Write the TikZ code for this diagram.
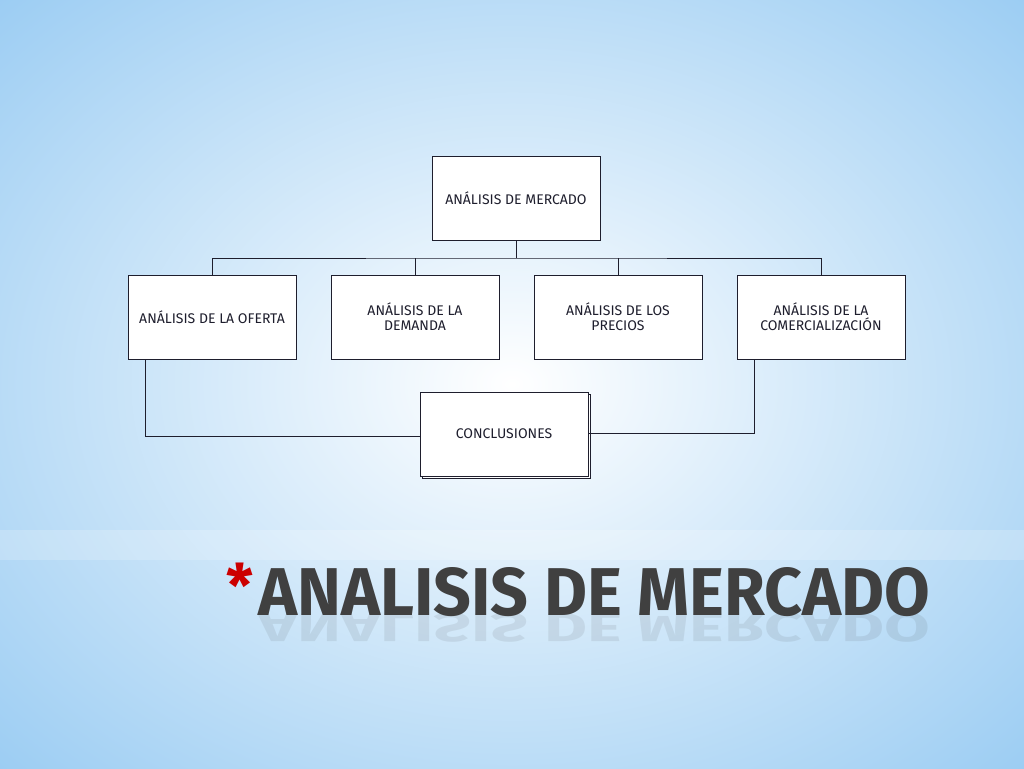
\documentclass[tikz,border=0pt]{standalone}
\usepackage{fontspec}
\setmainfont{Fira Sans}
\usetikzlibrary{shadows}
\definecolor{sky}{RGB}{150,202,242}
\definecolor{ink}{RGB}{30,30,45}
\definecolor{titlegray}{RGB}{64,64,64}
\begin{document}
\begin{tikzpicture}[x=1pt,y=-1pt,
  box/.style={draw=ink,line width=1pt,fill=white,minimum width=168pt,minimum height=84pt,inner sep=2pt,align=center,font=\fontsize{14}{15}\selectfont,text=ink},
  link/.style={draw=ink,line width=1pt}]
\useasboundingbox (0,0) rectangle (1024,768);
\shade[inner color=white,outer color=sky] (-250,-200) rectangle (1274,968);
\fill[white,opacity=0.2] (0,530) rectangle (1024,560);
\node[box] (top) at (516,198) {ANÁLISIS DE MERCADO};
\node[box,inner sep=1pt] (a) at (212,317) {ANÁLISIS DE LA OFERTA};
\node[box] (b) at (415,317) {ANÁLISIS DE LA\\DEMANDA};
\node[box] (c) at (618,317) {ANÁLISIS DE LOS\\PRECIOS};
\node[box] (d) at (821,317) {ANÁLISIS DE LA\\COMERCIALIZACIÓN};
\node[box,copy shadow={shadow xshift=2pt,shadow yshift=-2pt,draw=ink,fill=white,line width=1pt}] (e) at (504,434) {CONCLUSIONES};
\coordinate (bus) at (516,258);
\draw[link] (top.south) -- (bus);
\draw[link] (a.north) |- (bus) -| (d.north);
\draw[link] (b.north) -- (b.north |- bus);
\draw[link] (c.north) -- (c.north |- bus);
\coordinate (al) at (145,359);
\coordinate (dl) at (754,359);
\draw[link] (al) |- (e.west |- 0,436);
\draw[link] (dl) |- (e.east |- 0,433);
\node[text=red!80!black,font=\fontsize{60}{60}\selectfont\bfseries] (star) at (240,585) {*};
\node[anchor=west,text=titlegray,inner sep=0] (t) at (258,592) {\resizebox{672pt}{48pt}{\bfseries ANALISIS DE MERCADO}};
\node[anchor=west,text=titlegray,inner sep=0,opacity=0.1,yscale=-0.6] (tr) at (258,628) {\resizebox{672pt}{48pt}{\bfseries ANALISIS DE MERCADO}};
\end{tikzpicture}
\end{document}
